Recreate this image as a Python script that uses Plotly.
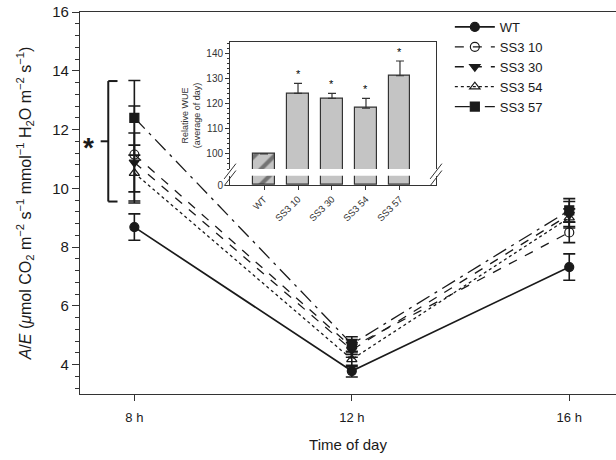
import plotly.graph_objects as go

# ---------------- data ----------------
hours = [8, 12, 16]
hour_labels = ["8 h", "12 h", "16 h"]
series_names = ["WT", "SS3 10", "SS3 30", "SS3 54", "SS3 57"]
wt = [8.68, 3.78, 7.32]
wt_err = [0.45, 0.2, 0.45]
ss3_10 = [11.15, 4.6, 8.5]
ss3_10_err = [1.65, 0.25, 0.35]
ss3_30 = [10.88, 4.5, 9.1]
ss3_30_err = [1.0, 0.25, 0.45]
ss3_54 = [10.52, 4.18, 9.0]
ss3_54_err = [0.95, 0.25, 0.3]
ss3_57 = [12.4, 4.7, 9.25]
ss3_57_err = [1.27, 0.25, 0.4]

inset_cats = ["WT", "SS3 10", "SS3 30", "SS3 54", "SS3 57"]
inset_vals = [100, 124.2, 122.2, 118.3, 131.2]
inset_err = [0, 4.0, 2.0, 3.9, 5.9]
inset_sig = ["", "*", "*", "*", "*"]

FONT = "Liberation Sans, Arial, Helvetica, sans-serif"
INK = "#1a1a1a"
AX = "#333333"

fig = go.Figure()

styles = [
    (wt, wt_err, "solid", "circle"),
    (ss3_10, ss3_10_err, "dash", "circle-open"),
    (ss3_30, ss3_30_err, "dash", "triangle-down"),
    (ss3_54, ss3_54_err, "dot", "triangle-up-open"),
    (ss3_57, ss3_57_err, "longdashdot", "square"),
]
for name, (vals, errs, dash, sym) in zip(series_names, styles):
    fig.add_trace(go.Scatter(
        x=hours, y=vals, name=name, mode="lines+markers",
        line=dict(color=INK, width=1.7 if dash == "solid" else 1.3, dash=dash),
        marker=dict(symbol=sym, size=9, color=INK, line=dict(color=INK, width=1.2)),
        error_y=dict(type="data", array=errs, visible=True, color=INK, thickness=1.6, width=6),
        xaxis="x", yaxis="y",
    ))

# ---------------- inset (broken axis) ----------------
pos = list(range(len(inset_cats)))
patterns = ["/", "", "", "", ""]
for ax_x, ax_y, show_err in [("x4", "y3", True), ("x3", "y4", False)]:
    fig.add_trace(go.Bar(
        x=pos, y=inset_vals, width=0.62, showlegend=False,
        marker=dict(color="#c4c4c4", line=dict(color=AX, width=1.2),
                    pattern=dict(shape=patterns, fgcolor="#222222",
                                 size=14, solidity=0.3, fillmode="overlay")),
        error_y=dict(type="data", array=inset_err, arrayminus=[0] * len(inset_err),
                     symmetric=False, visible=show_err, color=AX, thickness=1.2, width=4),
        xaxis=ax_x, yaxis=ax_y, hoverinfo="skip",
    ))
for p, v, e, s in zip(pos, inset_vals, inset_err, inset_sig):
    if s:
        fig.add_annotation(x=p, y=v + e, xref="x4", yref="y3", text=s, showarrow=False,
                           yanchor="bottom", yshift=1,
                           font=dict(size=11, color="#000000", family=FONT))

# geometry (paper coords)
IX0, IX1 = 0.2799, 0.6642
fig.update_layout(
    width=616, height=460,
    margin=dict(l=80, r=0, t=12, b=66),
    paper_bgcolor="white", plot_bgcolor="white",
    font=dict(family=FONT, color=INK),
    bargap=0,
    showlegend=True,
    legend=dict(x=0.69, y=1.0, xanchor="left", yanchor="top",
                bgcolor="rgba(0,0,0,0)", font=dict(size=13, color=INK, family=FONT),
                tracegroupgap=0, itemwidth=40),
    xaxis=dict(domain=[0, 1], range=[7.0, 16.86], tickvals=hours, ticktext=hour_labels,
               ticks="outside", ticklen=6, tickwidth=1, tickcolor=AX, ticklabelstandoff=5,
               showline=True, linecolor=AX, linewidth=1.2, mirror=True,
               showgrid=False, zeroline=False, tickfont=dict(size=13, color=INK),
               title=dict(text="Time of day", font=dict(size=15, color=INK), standoff=15)),
    yaxis=dict(domain=[0, 1], range=[3, 16], tickvals=[4, 6, 8, 10, 12, 14, 16],
               ticks="outside", ticklen=7, tickwidth=1, tickcolor=AX,
               minor=dict(dtick=0.4, tick0=0, ticks="outside", ticklen=4, tickcolor=AX),
               showline=True, linecolor=AX, linewidth=1.2, mirror=False,
               showgrid=False, zeroline=False, tickfont=dict(size=15, color=INK),
               title=dict(text="<i>A</i>/<i>E</i> (<i>μ</i>mol CO<sub>2</sub> m<sup>−2</sup> s<sup>−1</sup> mmol<sup>−1</sup> H<sub>2</sub>O m<sup>−2</sup> s<sup>−1</sup>)",
                          font=dict(size=16, color=INK), standoff=16)),
    # inset bottom segment
    xaxis3=dict(domain=[IX0, IX1], range=[-1, 5.06], anchor="y4", tickvals=pos,
                ticktext=inset_cats, tickangle=-45, ticks="outside", ticklen=4,
                tickcolor=AX, showline=True, linecolor=AX, linewidth=1,
                showgrid=False, zeroline=False, tickfont=dict(size=9.5, color="#333")),
    yaxis4=dict(domain=[0.5471, 0.5715], range=[0, 3.7], anchor="x3", tickvals=[0],
                ticks="outside", ticklen=4, tickcolor=AX, showline=True, mirror=True,
                linecolor=AX, linewidth=1, showgrid=False, zeroline=False,
                tickfont=dict(size=10, color="#333")),
    # inset upper segment
    xaxis4=dict(domain=[IX0, IX1], range=[-1, 5.06], anchor="y3", side="top",
                showticklabels=False, ticks="", showline=True, linecolor=AX,
                linewidth=1, showgrid=False, zeroline=False),
    yaxis3=dict(domain=[0.589, 0.9223], range=[94, 144.8], anchor="x4",
                tickvals=[100, 110, 120, 130, 140], ticks="outside", ticklen=4,
                tickcolor=AX, minor=dict(dtick=2, ticks="outside", ticklen=2, tickcolor=AX),
                showline=True, mirror=True, linecolor=AX, linewidth=1,
                showgrid=False, zeroline=False, tickfont=dict(size=10, color="#333")),
)

# inset y title
fig.add_annotation(xref="paper", yref="paper", x=0.2075, y=0.73, textangle=-90,
                   xanchor="center", yanchor="middle",
                   text="Relative WUE<br>(average of day)", showarrow=False,
                   font=dict(size=9, color="#333", family=FONT))

# axis break marks on inset
for xc in (IX0, IX1):
    for dy in (0.0, 0.018):
        fig.add_shape(type="line", xref="paper", yref="paper",
                      x0=xc - 0.011, y0=0.545 + dy, x1=xc + 0.011, y1=0.585 + dy,
                      line=dict(color=AX, width=1))

# significance bracket at 8 h
bx = 7.52
fig.add_shape(type="line", x0=bx, x1=bx, y0=9.55, y1=13.65, xref="x", yref="y",
              line=dict(color=INK, width=2))
fig.add_shape(type="line", x0=bx, x1=bx + 0.17, y0=13.65, y1=13.65, xref="x", yref="y",
              line=dict(color=INK, width=2))
fig.add_shape(type="line", x0=bx, x1=bx + 0.17, y0=9.55, y1=9.55, xref="x", yref="y",
              line=dict(color=INK, width=2))
fig.add_shape(type="line", x0=bx - 0.14, x1=bx, y0=11.6, y1=11.6, xref="x", yref="y",
              line=dict(color=INK, width=2))
fig.add_annotation(x=7.16, y=11.4, xref="x", yref="y", text="<b>*</b>", showarrow=False,
                   font=dict(size=28, color=INK, family=FONT))

fig.write_html("out.html")
